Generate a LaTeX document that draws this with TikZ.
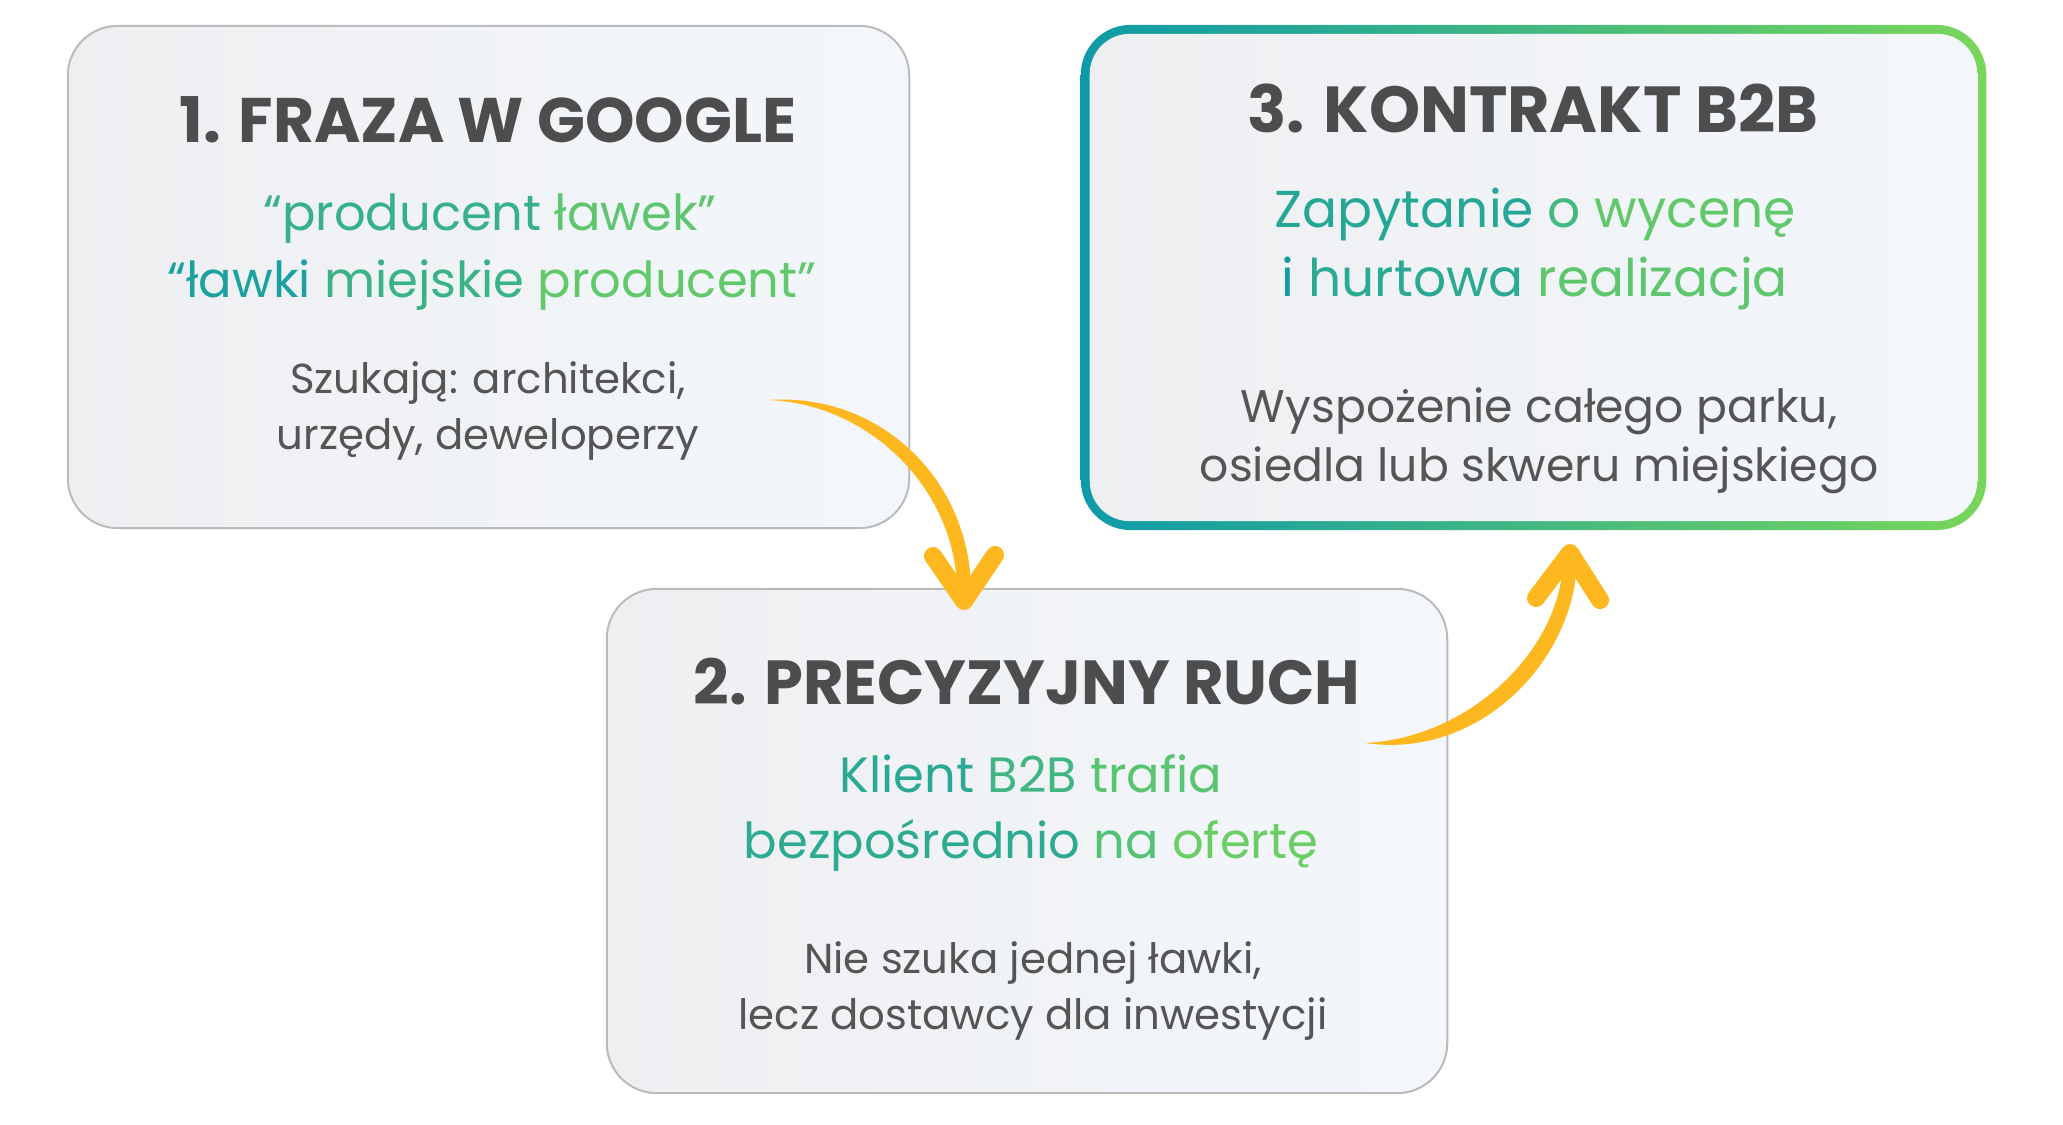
\documentclass[tikz,border=0pt]{standalone}
\usepackage{fontspec}
\setmainfont{Poppins}
\usepackage{xcolor}
\usepackage{tikz}
\usetikzlibrary{positioning}

\definecolor{tealc}{HTML}{0E9AA8}
\definecolor{greenc}{HTML}{78D65A}
\definecolor{titlec}{HTML}{4D4D4D}
\definecolor{bodyc}{HTML}{555555}
\definecolor{boxl}{HTML}{EEEFF1}
\definecolor{boxr}{HTML}{F3F7FC}
\definecolor{edgec}{HTML}{BBBBBB}
\definecolor{arrowc}{HTML}{FDB820}

% word in the teal-to-green run
\newcommand{\gw}[2]{\textcolor{greenc!#1!tealc}{#2}}

\begin{document}
\begin{tikzpicture}[x=0.01cm, y=-0.01cm,
    card/.style={rectangle, rounded corners=0.5cm, draw=edgec, line width=0.02cm, left color=boxl, right color=boxr, minimum width=8.41cm, minimum height=5.02cm, inner sep=0},
    cardtitle/.style={anchor=base, inner sep=0, text=titlec, font=\fontsize{17.7}{21}\selectfont\bfseries},
    phrase/.style={anchor=base, inner sep=0, font=\fontsize{14.1}{17}\selectfont},
    who/.style={anchor=base, inner sep=0, text=bodyc, font=\fontsize{11.9}{14}\selectfont},
    shaft/.style={fill=arrowc},
    chevron/.style={draw=arrowc, line width=0.18cm, line cap=round, line join=round}]
        \useasboundingbox[fill=white] (0,0) rectangle (2063,1125);

        % Cards
        \node[card] (box1) at (488.5,277) {};
        \node[card, minimum width=8.40cm, minimum height=5.04cm] (box2) at (1027,841) {};
        \node[card, draw=none, left color=tealc, right color=greenc, minimum width=9.05cm, minimum height=5.05cm] (box3) at (1533.5,277.5) {};
        \shade[left color=boxl, right color=boxr, rounded corners=0.4cm] ([shift={(10,10)}]box3.north west) rectangle ([shift={(-10,-10)}]box3.south east);

        % Step 1
        \node[cardtitle, font=\fontsize{17.9}{21}\selectfont\bfseries] (title1) at (488,143) {1. FRAZA W GOOGLE};
        \node[phrase] (kw1a) at (490,231) {\gw{38}{“producent} \gw{74}{ławek”}};
        \node[phrase] (kw1b) at (492,298) {\gw{12}{“ławki} \gw{42}{miejskie} \gw{79}{producent”}};
        \node[who] (who1a) at (488,394) {Szukają: architekci,};
        \node[who] (who1b) at (488,450) {urzędy, deweloperzy};

        % Step 2
        \node[cardtitle] (title2) at (1027,705) {2. PRECYZYJNY RUCH};
        \node[phrase] (kw2a) at (1031,793) {\gw{25}{Klient} \gw{47}{B2B} \gw{72}{trafia}};
        \node[phrase] (kw2b) at (1031,859) {\gw{29}{bezpośrednio} \gw{66}{na} \gw{87}{ofertę}};
        \node[who] (who2a) at (1033,974) {Nie szuka jednej ławki,};
        \node[who] (who2b) at (1033,1030) {lecz dostawcy dla inwestycji};

        % Step 3
        \node[cardtitle, font=\fontsize{18.5}{22}\selectfont\bfseries] (title3) at (1533,133) {3. KONTRAKT B2B};
        \node[phrase, font=\fontsize{14.75}{18}\selectfont] (kw3a) at (1535,228) {\gw{22}{Zapytanie} \gw{51}{o} \gw{79}{wycenę}};
        \node[phrase, font=\fontsize{14.75}{18}\selectfont] (kw3b) at (1535,297) {\gw{2}{i} \gw{27}{hurtowa} \gw{75}{realizacja}};
        \node[who, font=\fontsize{13}{16}\selectfont] (who3a) at (1539,423) {Wyspożenie całego parku,};
        \node[who, font=\fontsize{13}{16}\selectfont] (who3b) at (1539,482) {osiedla lub skweru miejskiego};

        % Arrows
        \coordinate (s1) at (768,400);
        \coordinate (tip1) at (964,601);
        \fill[shaft] (s1) .. controls (880,392) and (971,480) .. (971,592) -- (957,592) .. controls (957,492) and (872,404) .. (s1);
        \draw[chevron] (933,556) -- (tip1) -- (995,555);

        \coordinate (s2) at (1365,743);
        \coordinate (tip2) at (1570,553);
        \fill[shaft] (s2) .. controls (1480,760) and (1574,660) .. (1577,562) -- (1563,562) .. controls (1560,650) and (1470,738) .. (s2);
        \draw[chevron] (1536,598) -- (tip2) -- (1600,600);
    \end{tikzpicture}
\end{document}
